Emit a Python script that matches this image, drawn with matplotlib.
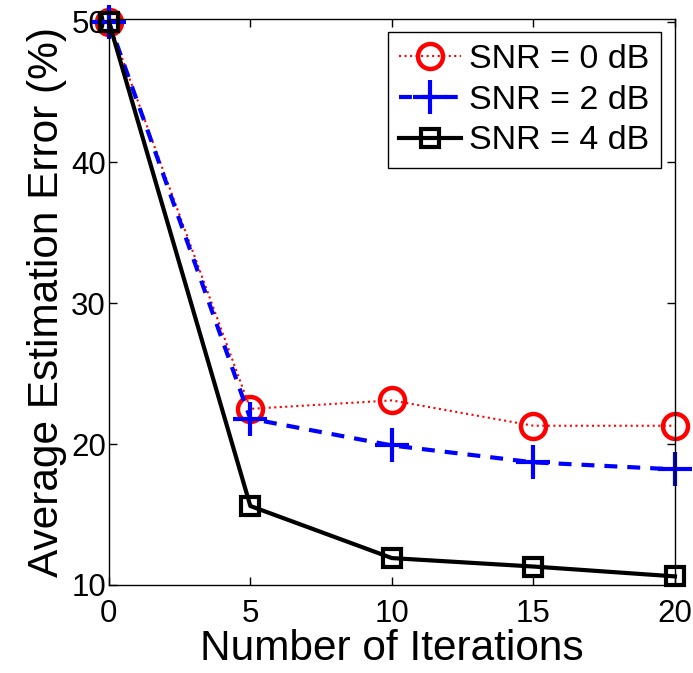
import matplotlib
matplotlib.use("Agg")
import matplotlib.pyplot as plt

plt.rcParams['font.family'] = ['Liberation Sans', 'DejaVu Sans']

iterations = [0, 5, 10, 15, 20]
snr0 = [50.0, 22.5, 23.1, 21.3, 21.3]
snr2 = [50.0, 21.8, 19.9, 18.7, 18.2]
snr4 = [50.0, 15.6, 11.9, 11.3, 10.6]

fig = plt.figure(figsize=(6.93, 6.73), dpi=100)
ax = fig.add_axes([0.157, 0.131, 0.817, 0.841])

ax.plot(iterations, snr0, color='red', linestyle=':', linewidth=1.5,
        marker='o', markersize=18, markerfacecolor='none', markeredgewidth=3.2,
        label='SNR = 0 dB', clip_on=False)
ax.plot(iterations, snr2, color='blue', linestyle='--', linewidth=3,
        dashes=(3.1, 2.4), marker='+', markersize=25, markeredgewidth=3,
        label='SNR = 2 dB', clip_on=False)
ax.plot(iterations, snr4, color='black', linestyle='-', linewidth=3,
        marker='s', markersize=13, markerfacecolor='none', markeredgewidth=3,
        label='SNR = 4 dB', clip_on=False)

ax.set_xlim(0, 20)
ax.set_ylim(10, 50.2)
ax.set_xticks([0, 5, 10, 15, 20])
ax.set_yticks([10, 20, 30, 40, 50])
ax.tick_params(direction='in', top=True, right=True, labelsize=22.5, length=6, width=1)
ax.tick_params(axis='x', pad=10)
ax.tick_params(axis='y', pad=2)
for s in ax.spines.values():
    s.set_linewidth(1.0)

ax.set_xlabel('Number of Iterations', fontsize=30.5, labelpad=0)
ax.set_ylabel('Average Estimation Error (%)', fontsize=30.5, labelpad=3)

leg = ax.legend(loc='upper right', fontsize=24.5, fancybox=False, framealpha=1,
                edgecolor='black', handlelength=1.8, handletextpad=0.25,
                borderpad=0.35, labelspacing=0.28, borderaxespad=0.4)
leg.get_frame().set_linewidth(1.0)

fig.savefig('out.png', dpi=100)
